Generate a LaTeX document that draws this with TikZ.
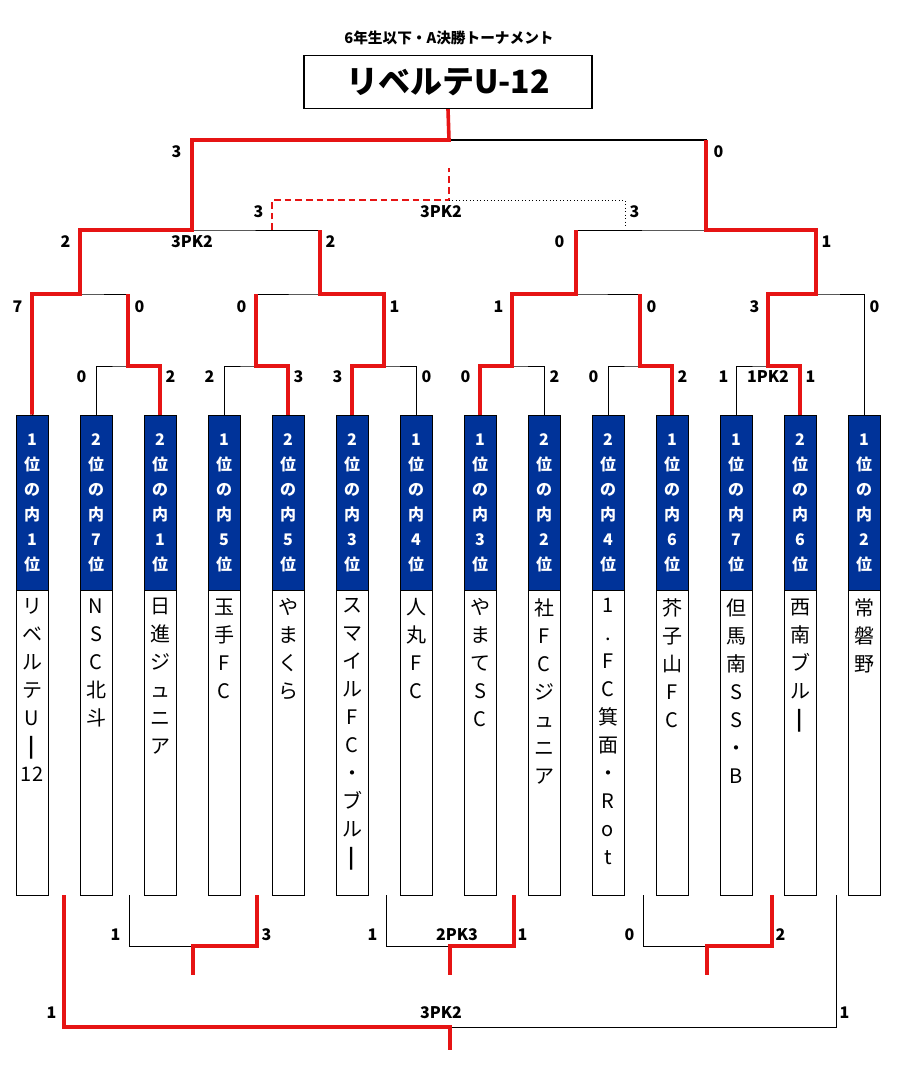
\documentclass[tikz,border=0pt]{standalone}
\usepackage{fontspec}
\setmainfont{Noto Sans CJK JP}
\usepackage{tikz}
\definecolor{seedblue}{RGB}{0,51,153}
\definecolor{winred}{RGB}{230,20,20}
\tikzset{
    seed/.style     = {rectangle, draw=black, fill=seedblue, text=white,
        minimum width=24pt, minimum height=131.25pt, inner sep=0pt,
        align=center, font=\fontsize{12}{18.75}\selectfont\bfseries},
    team/.style     = {rectangle, draw=black, fill=white,
        minimum width=24pt, minimum height=228.75pt, inner sep=0pt},
    teamname/.style = {anchor=north, align=center, inner sep=0pt,
        font=\fontsize{15}{21}\selectfont},
    score/.style    = {font=\fontsize{12}{14}\selectfont\bfseries, inner sep=1pt},
    bracket/.style  = {draw=black, line width=0.6pt},
    win/.style      = {draw=winred, line width=2.7pt}
}
\begin{document}
\begin{tikzpicture}[x=0.75pt, y=-0.75pt]
    \useasboundingbox (0,0) rectangle (897,1077);
    % title
    \node[score, font=\fontsize{11}{13}\selectfont\bfseries] (sub) at (449,38) {6年生以下・A決勝トーナメント};
    \node[draw, line width=1pt, minimum width=216pt, minimum height=39.75pt,
        font=\fontsize{24}{28}\selectfont\bfseries] (title) at (448,82) {リベルテU-12};
    % teams
    \foreach \i/\x/\s/\n in {
        1/32/{1\\位\\の\\内\\1\\位}/{リ\\ベ\\ル\\テ\\U\\\textbf{|}\\12},
        2/96/{2\\位\\の\\内\\7\\位}/{N\\S\\C\\北\\斗},
        3/160/{2\\位\\の\\内\\1\\位}/{日\\進\\ジ\\ュ\\ニ\\ア},
        4/224/{1\\位\\の\\内\\5\\位}/{玉\\手\\F\\C},
        5/288/{2\\位\\の\\内\\5\\位}/{や\\ま\\く\\ら},
        6/352/{2\\位\\の\\内\\3\\位}/{ス\\マ\\イ\\ル\\F\\C\\・\\ブ\\ル\\\textbf{|}},
        7/416/{1\\位\\の\\内\\4\\位}/{人\\丸\\F\\C},
        8/480/{1\\位\\の\\内\\3\\位}/{や\\ま\\て\\S\\C},
        9/544/{2\\位\\の\\内\\2\\位}/{社\\F\\C\\ジ\\ュ\\ニ\\ア},
        10/608/{2\\位\\の\\内\\4\\位}/{1\\.\\F\\C\\箕\\面\\・\\R\\o\\t},
        11/672/{1\\位\\の\\内\\6\\位}/{芥\\子\\山\\F\\C},
        12/736/{1\\位\\の\\内\\7\\位}/{但\\馬\\南\\S\\S\\・\\B},
        13/800/{2\\位\\の\\内\\6\\位}/{西\\南\\ブ\\ル\\\textbf{|}},
        14/864/{1\\位\\の\\内\\2\\位}/{常\\磐\\野}}
    {
        \node[seed] (s\i) at (\x,502.5) {\s};
        \node[team, anchor=north] (t\i) at (s\i.south) {};
        \node[teamname] (n\i) at ([yshift=-6pt]t\i.north) {\n};
    }
    % match points
    \coordinate (m1) at (128,366); \coordinate (m2) at (256,366);
    \coordinate (m3) at (384,366); \coordinate (m4) at (512,366);
    \coordinate (m5) at (640,366); \coordinate (m6) at (768,366);
    \coordinate (p1) at (80,294);  \coordinate (p2) at (320,294);
    \coordinate (p3) at (576,294); \coordinate (p4) at (816,294);
    \coordinate (q1) at (192,230); \coordinate (q2) at (706,230);
    \coordinate (f) at (449,140);
    \coordinate (d1) at (272,230); \coordinate (d2) at (625,228);
    \coordinate (dm) at (449,200); \coordinate (dt) at (449,168);
    % bracket
    \draw[bracket] (s2.north) |- (m1) -| (s3.north);
    \draw[bracket] (s4.north) |- (m2) -| (s5.north);
    \draw[bracket] (s6.north) |- (m3) -| (s7.north);
    \draw[bracket] (s8.north) |- (m4) -| (s9.north);
    \draw[bracket] (s10.north) |- (m5) -| (s11.north);
    \draw[bracket] (s12.north) |- (m6) -| (s13.north);
    \draw[bracket] (s1.north) |- (p1) -| (m1);
    \draw[bracket] (m2) |- (p2) -| (m3);
    \draw[bracket] (m4) |- (p3) -| (m5);
    \draw[bracket] (m6) |- (p4) -| (s14.north);
    \draw[bracket] (p1) |- (q1) -| (p2);
    \draw[bracket] (p3) |- (q2) -| (p4);
    \draw[bracket, line width=1pt] (q1) |- (f) -| (q2);
    \draw[bracket] (f) -- (title.south);
    % winners
    \draw[win] (s1.north) |- (p1) |- (q1) |- (f) -- (title.south);
    \draw[win] (s3.north) |- (m1) -- (m1 |- p1);
    \draw[win] (s5.north) |- (m2) -- (m2 |- p2);
    \draw[win] (s6.north) |- (m3) |- (p2) -- (p2 |- q1);
    \draw[win] (s8.north) |- (m4) |- (p3) -- (p3 |- q2);
    \draw[win] (s11.north) |- (m5) -- (m5 |- p3);
    \draw[win] (s13.north) |- (m6) |- (p4) |- (q2) -- (q2 |- f);
    % replay
    \draw[winred, line width=1.6pt, dash pattern=on 5pt off 3pt] (d1) |- (dm) -- (dt);
    \draw[black, line width=0.6pt, dotted] (dm) -| (d2);
    % placing matches
    \coordinate (a1) at (129,895); \coordinate (a2) at (257,895); \coordinate (am) at (193,946);
    \coordinate (b1) at (386,895); \coordinate (b2) at (514,895); \coordinate (bm) at (450,946);
    \coordinate (c1) at (643,895); \coordinate (c2) at (772,895); \coordinate (cm) at (707,946);
    \coordinate (e1) at (64,895);  \coordinate (e2) at (836,895); \coordinate (em) at (450,1027);
    \draw[bracket] (a1) |- (am) -| (a2);
    \draw[bracket] (b1) |- (bm) -| (b2);
    \draw[bracket] (c1) |- (cm) -| (c2);
    \draw[bracket] (e1) |- (em) -| (e2);
    \draw[win] (a2) |- (am) -- ++(0,29);
    \draw[win] (b2) |- (bm) -- ++(0,29);
    \draw[win] (c2) |- (cm) -- ++(0,29);
    \draw[win] (e1) |- (em) -- ++(0,23);
    % scores
    \foreach \x/\y/\t in {183/152/3, 72/242/2, 566/242/0, 265/212/3,
        24/307/7, 248/307/0, 505/307/1, 761/307/3,
        88/377/0, 216/377/2, 344/377/3, 472/377/0, 600/377/0, 730/377/1,
        122/935/1, 379/935/1, 636/935/0, 58/1013/1}
        \node[score, anchor=east] at (\x,\y) {\t};
    \foreach \x/\y/\t in {712/152/0, 324/242/2, 820/242/1, 628/212/3,
        133/307/0, 388/307/1, 645/307/0, 868/307/0,
        164/377/2, 292/377/3, 420/377/0, 548/377/2, 676/377/2, 804/377/1,
        260/935/3, 516/935/1, 774/935/2, 838/1013/1}
        \node[score, anchor=west] at (\x,\y) {\t};
    \foreach \x/\y/\t in {192/242/3PK2, 441/212/3PK2, 768/377/1PK2,
        457/935/2PK3, 441/1013/3PK2}
        \node[score] at (\x,\y) {\t};
\end{tikzpicture}
\end{document}
